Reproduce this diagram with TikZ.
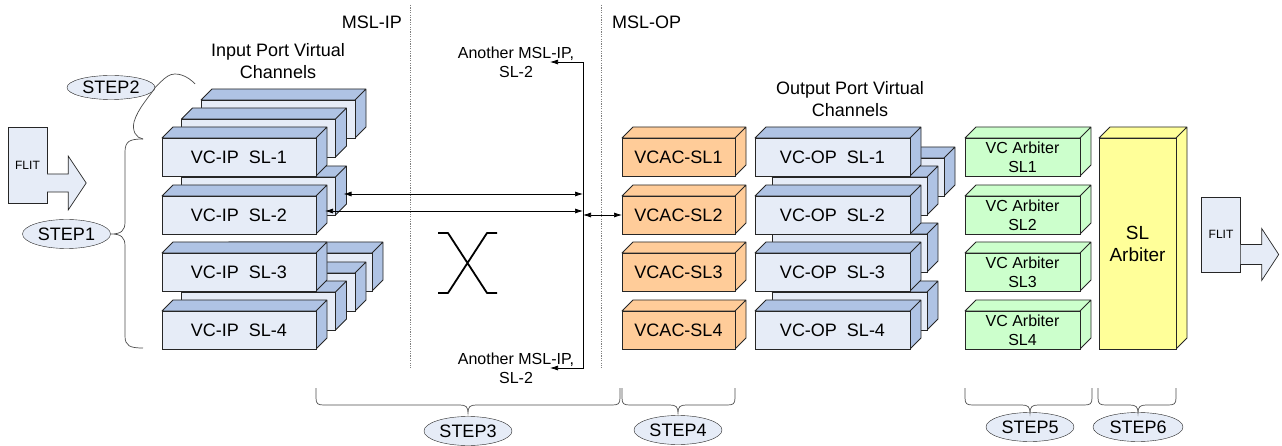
\documentclass[tikz,border=0pt]{standalone}
\usepackage{fontspec}
\setmainfont{Liberation Sans}
\usetikzlibrary{positioning,shapes,arrows.meta,calc}
\definecolor{vcfront}{HTML}{E6ECF7}
\definecolor{vcface}{HTML}{AFC3E4}
\definecolor{vacfill}{HTML}{FFCC99}
\definecolor{arbfill}{HTML}{CCFFCC}
\definecolor{slfill}{HTML}{FFFF99}
\definecolor{edge}{HTML}{262626}

\begin{document}
\begin{tikzpicture}[x=1pt,y=-1pt,
>={Latex[length=8pt,width=5pt]},
cube/.style 2 args={
  draw=edge,
  fill=#1,
  line width=0.8pt,
  anchor=north west,
  inner sep=0pt,
  outer sep=0pt,
  align=center,
  append after command={\pgfextra{
    \draw[draw=edge,fill=#2,line width=0.8pt,line join=round]
      (\tikzlastnode.north west) -- ++(11,-11)
      -- ([shift={(11,-11)}]\tikzlastnode.north east)
      -- ([shift={(11,-11)}]\tikzlastnode.south east)
      -- (\tikzlastnode.south east) -- (\tikzlastnode.north east) -- cycle
      (\tikzlastnode.north east) -- ++(11,-11);}}},
ipcube/.style={
  cube={vcfront}{vcface},
  minimum width=154,
  minimum height=38,
  font=\fontsize{18}{21}\selectfont},
opcube/.style={ipcube, minimum width=155},
vaccube/.style={
  cube={vacfill}{vacfill},
  minimum width=113,
  minimum height=38,
  font=\fontsize{18}{21}\selectfont},
arbcube/.style={
  cube={arbfill}{arbfill},
  minimum width=115,
  minimum height=38,
  font=\fontsize{16}{19}\selectfont},
slcube/.style={
  cube={slfill}{slfill},
  minimum width=77,
  minimum height=211,
  font=\fontsize{19}{22}\selectfont},
stepnode/.style={
  draw=edge,
  ellipse,
  fill=vcfront,
  inner sep=0pt,
  minimum width=88,
  minimum height=29,
  font=\fontsize{18}{20}\selectfont},
flitbox/.style={
  draw=edge,
  fill=vcfront,
  inner sep=0pt,
  minimum width=39,
  font=\fontsize{12}{14}\selectfont},
lbl/.style={
  align=center,
  inner sep=0pt,
  font=\fontsize{18}{22}\selectfont},
note/.style={
  align=center,
  inner sep=0pt,
  font=\fontsize{16}{19}\selectfont},
brace/.style={draw=black!70, line width=0.7pt}
]
\useasboundingbox (0,0) rectangle (1282,446);

% separators
\draw[gray, dash pattern=on 1.2pt off 1.2pt] (410,5) -- (410,368);
\draw[gray, dash pattern=on 1.2pt off 1.2pt] (601,5) -- (601,368);
\node[lbl, anchor=east] (mslip) at (402,22) {MSL-IP};
\node[lbl, anchor=west] (mslop) at (612,22) {MSL-OP};

% input flit
\node[flitbox, minimum height=76] (flitin) at (27.5,165) {FLIT};
\draw[edge, fill=vcfront, line width=0.7pt]
  ([yshift=-9]flitin.east) -- ++(21,0) -- ++(0,-18) -- ++(18,27)
  -- ++(-18,27) -- ++(0,-18) -- ++(-21,0);

% input port virtual channels
\node[lbl] (iptitle) at (278,61) {Input Port Virtual\\Channels};
\node[ipcube] (ip3b) at (218,253) {};
\node[ipcube] (ip1c) at (201,100) {};
\node[ipcube] (ip4c) at (201,273) {};
\node[ipcube] (ip1b) at (181.5,119) {};
\node[ipcube] (ip2b) at (181.5,177) {};
\node[ipcube] (ip4b) at (181.5,292) {};
\foreach \i/\r in {1/138,2/196,3/253,4/311}
  \node[ipcube] (ip\i) at (162,\r) {VC-IP~~SL-\i};

% crossbar
\draw[line width=1.8pt, line join=round]
  (438,233) -- (448,233) -- (487,293) -- (497,293)
  (497,233) -- (487,233) -- (448,293) -- (438,293);

% links to other input ports
\coordinate (vtop) at (583,62);
\coordinate (vbot) at (583,368);
\coordinate (ntop) at (550,62);
\coordinate (nbot) at (550,368);
\node[note] (anotherup) at (516,62) {Another MSL-IP,\\SL-2};
\node[note] (anotherdn) at (516,368) {Another MSL-IP,\\SL-2};
\draw[<->, line width=0.7pt] (ntop) -- (vtop) -- (vbot) -- (nbot);
\coordinate (a1) at ([shift={(8,-2)}]ip2b.east);
\coordinate (a2) at ([shift={(9,-4)}]ip2.east);
\draw[<->, line width=0.7pt] (a1) -- (a1 -| vtop);
\draw[<->, line width=0.7pt] (a2) -- (a2 -| vtop);

% VC allocation
\foreach \i/\r in {1/138,2/196,3/253,4/311}
  \node[vaccube] (vac\i) at (622,\r) {VCAC-SL\i};
\draw[<->, line width=0.7pt] (vac2.west -| vtop) -- (vac2.west);

% output port virtual channels
\node[lbl] (optitle) at (850,99) {Output Port Virtual\\Channels};
\node[opcube] (op2c) at (789,158) {};
\node[opcube] (op2b) at (772,177) {};
\node[opcube] (op3b) at (772,234) {};
\node[opcube] (op4b) at (772,292) {};
\foreach \i/\r in {1/138,2/196,3/253,4/311}
  \node[opcube] (op\i) at (755,\r) {VC-OP~~SL-\i};

% arbiters
\foreach \i/\r in {1/138,2/196,3/253,4/311}
  \node[arbcube] (arb\i) at (965,\r) {VC Arbiter\\SL\i};
\node[slcube] (slarb) at (1099,138) {SL\\Arbiter};

% output flit
\node[flitbox, minimum height=75] (flitout) at (1221,234.5) {FLIT};
\draw[edge, fill=vcfront, line width=0.7pt]
  ([yshift=-10]flitout.east) -- ++(21,0) -- ++(0,-16) -- ++(17,26)
  -- ++(-17,26) -- ++(0,-16) -- ++(-21,0);

% steps
\node[stepnode] (step1) at (66.5,234) {STEP1};
\node[stepnode, minimum height=24] (step2) at (111,87.5) {STEP2};
\node[stepnode] (step3) at (468,431) {STEP3};
\node[stepnode] (step4) at (678,430) {STEP4};
\node[stepnode] (step5) at (1030,427) {STEP5};
\node[stepnode, minimum width=90] (step6) at (1138,427) {STEP6};

\draw[brace] (143,139) .. controls (130,139) and (125,141) .. (125,152)
  -- (125,222) .. controls (125,231) and (121,234) .. (step1.east)
  .. controls (121,234) and (125,237) .. (125,246)
  -- (125,336) .. controls (125,346) and (130,348) .. (143,348);
\draw[brace] (195,84) .. controls (188,76) and (176,71) .. (168,76)
  .. controls (163,79) and (160,83) .. (step2.east)
  .. controls (150,96) and (138,108) .. (134,122)
  .. controls (132,131) and (136,138) .. (143,139);
\foreach \xa/\xb/\xm in {316/620/468,622/735/678,965/1092/1030,1098/1176/1138}
  \draw[brace] (\xa,388) -- (\xa,398) .. controls (\xa,404) and (\xa+2,405) .. (\xa+8,405)
    -- (\xm-8,405) .. controls (\xm-2,405) and (\xm,407) .. (\xm,413)
    .. controls (\xm,407) and (\xm+2,405) .. (\xm+8,405)
    -- (\xb-8,405) .. controls (\xb-2,405) and (\xb,404) .. (\xb,398) -- (\xb,388);
\end{tikzpicture}
\end{document}
